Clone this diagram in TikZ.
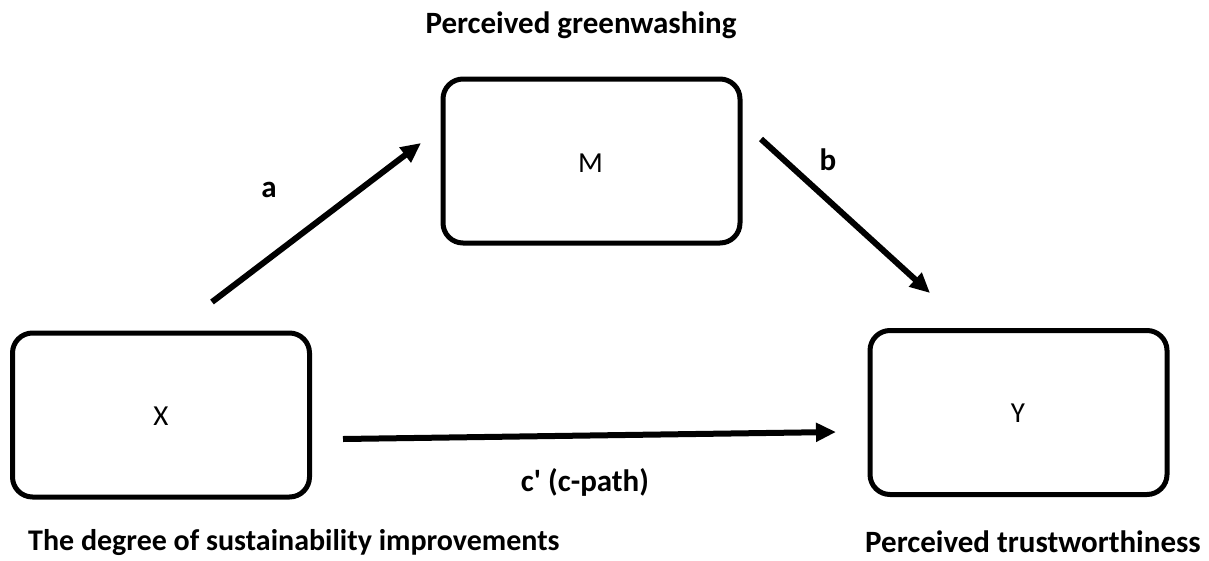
\documentclass[tikz,border=0pt]{standalone}
\usepackage{fontspec}
\newfontfamily\calfont{Carlito}
\usetikzlibrary{arrows.meta}
\begin{document}
\begin{tikzpicture}[x=1pt,y=-1pt,
  varbox/.style={draw=black,line width=5pt,rounded corners=20pt,minimum width=297pt,minimum height=164pt,inner sep=0pt},
  boxtext/.style={font=\calfont\fontsize{29}{32}\selectfont,inner sep=0pt},
  lbl/.style={font=\calfont\bfseries\fontsize{31}{34}\selectfont,inner sep=0pt},
  arr/.style={line width=6pt,-{Triangle[length=20pt,width=18pt]}}]
\path[use as bounding box] (0,0) rectangle (1209,560);
\node[varbox] (M) at (591.5,161) {};
\node[varbox] (X) at (161,415) {};
\node[varbox] (Y) at (1018.5,412.5) {};
\node[boxtext] (tm) at (590.5,163) {M};
\node[boxtext] (tx) at (161,416) {X};
\node[boxtext] (ty) at (1018,413) {Y};
\node[lbl,anchor=base] (lm) at (581,33) {Perceived greenwashing};
\node[lbl,anchor=base west,font=\calfont\bfseries\fontsize{30}{34}\selectfont] (lx) at (28,550) {The degree of sustainability improvements};
\node[lbl,anchor=base] (ly) at (1033,552) {Perceived trustworthiness};
\node[lbl] (la) at (269,190) {a};
\node[lbl] (lb) at (828,160) {b};
\node[lbl] (lc) at (585,482) {c' (c-path)};
\coordinate (a1) at (212,302);
\coordinate (a2) at (421,143);
\coordinate (b1) at (761,139);
\coordinate (b2) at (930,293);
\coordinate (c1) at (343,439);
\coordinate (c2) at (836,432);
\draw[arr] (a1) -- (a2);
\draw[arr] (b1) -- (b2);
\draw[arr] (c1) -- (c2);
\end{tikzpicture}
\end{document}
